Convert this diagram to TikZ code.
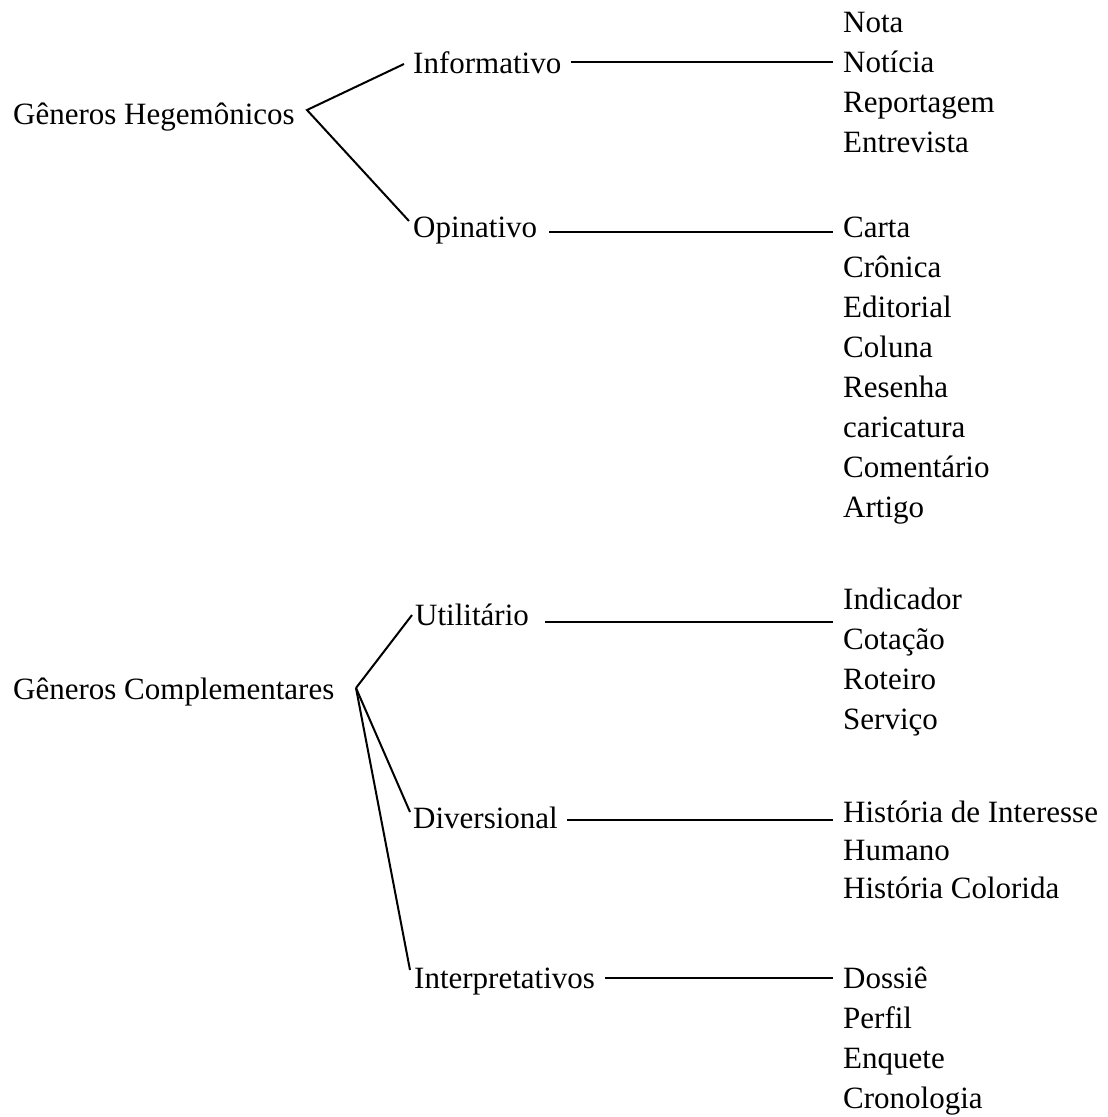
\documentclass[tikz,border=0pt]{standalone}
\usepackage{fontspec}
\setmainfont{Liberation Serif}
\usetikzlibrary{positioning}

\tikzset{
  genre/.style={inner sep=0pt, anchor=base west, font=\fontsize{31}{40}\selectfont},
  branch/.style={line width=2pt},
}

\begin{document}
\begin{tikzpicture}[x=1pt, y=-1pt]
    \useasboundingbox (0,0) rectangle (1108,1117);

    % groups
    \node[genre] (hege) at (13,124) {Gêneros Hegemônicos};
    \node[genre] (comp) at (13,699) {Gêneros Complementares};

    % categories
    \node[genre] (info) at (413,73) {Informativo};
    \node[genre] (opin) at (413,237) {Opinativo};
    \node[genre] (util) at (415,625) {Utilitário};
    \node[genre] (div) at (413,828) {Diversional};
    \node[genre] (interp) at (414,988) {Interpretativos};

    % genres
    \foreach \g [count=\i from 0] in {Nota, Notícia, Reportagem, Entrevista}
        \node[genre] (info-\i) at (843,32+40*\i) {\g};
    \foreach \g [count=\i from 0] in {Carta, Crônica, Editorial, Coluna, Resenha, caricatura, Comentário, Artigo}
        \node[genre] (opin-\i) at (843,237+40*\i) {\g};
    \foreach \g [count=\i from 0] in {Indicador, Cotação, Roteiro, Serviço}
        \node[genre] (util-\i) at (843,609+40*\i) {\g};
    \foreach \g [count=\i from 0] in {História de Interesse, Humano, História Colorida}
        \node[genre] (div-\i) at (843,822+38*\i) {\g};
    \foreach \g [count=\i from 0] in {Dossiê, Perfil, Enquete, Cronologia}
        \node[genre] (interp-\i) at (843,988+40*\i) {\g};

    \coordinate (hegeFork) at (307,110);
    \coordinate (compFork) at (356,688);
    \coordinate (infoEnd) at (833,62);
    \coordinate (opinEnd) at (833,232);
    \coordinate (utilEnd) at (833,622);
    \coordinate (divEnd) at (833,820);
    \coordinate (interpEnd) at (833,978);

    \draw[branch] ([xshift=-9pt,yshift=9pt]info.base west) -- (hegeFork) -- ([xshift=-4pt,yshift=16pt]opin.base west);
    \draw[branch] ([xshift=-3pt,yshift=10pt]util.base west) -- (compFork);
    \draw[branch] (compFork) -- ([xshift=-3pt,yshift=16pt]div.base west);
    \draw[branch] (compFork) -- ([xshift=-4pt,yshift=18pt]interp.base west);

    \draw[branch] ([xshift=10pt,yshift=11pt]info.base east) -- (infoEnd);
    \draw[branch] ([xshift=12pt,yshift=5pt]opin.base east) -- (opinEnd);
    \draw[branch] ([xshift=16pt,yshift=3pt]util.base east) -- (utilEnd);
    \draw[branch] ([xshift=9pt,yshift=8pt]div.base east) -- (divEnd);
    \draw[branch] ([xshift=10pt,yshift=10pt]interp.base east) -- (interpEnd);
\end{tikzpicture}
\end{document}
